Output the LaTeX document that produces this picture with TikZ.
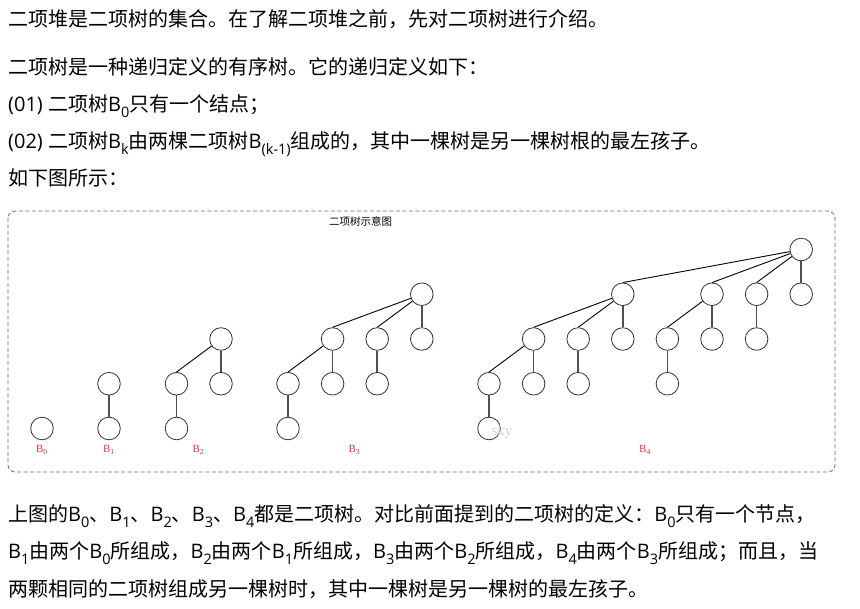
\documentclass[tikz,border=0pt]{standalone}
\usepackage{fontspec}
\setmainfont{Noto Sans CJK SC}
\newfontfamily\latinserif{Liberation Serif}
\newfontfamily\latinsans{Open Sans}
\definecolor{lblred}{RGB}{222,52,62}
\definecolor{edgegray}{RGB}{80,80,80}
\definecolor{boxgray}{RGB}{110,110,110}
\definecolor{wmgray}{RGB}{210,210,210}
% Latin runs inside the Chinese text
\newcommand\lat[1]{{\latinsans #1}}
% lowered, smaller subscript used in the running text
\newcommand\subx[1]{\raisebox{-0.3em}{\latinsans\fontsize{14.5}{15}\selectfont #1}}
\begin{document}
\begin{tikzpicture}[x=1pt,y=-1pt,
  para/.style={anchor=base west,inner sep=0pt,font=\fontsize{20}{24}\selectfont},
  tn/.style={circle,draw=black!80,line width=0.8pt,minimum size=22.6pt,inner sep=0pt},
  diag/.style={draw=black,line width=0.9pt},
  vert/.style={draw=edgegray,line width=1.5pt},
  lbl/.style={text=lblred,inner sep=0pt,font=\latinserif\fontsize{11}{12}\selectfont}]
\useasboundingbox[fill=white] (0,0) rectangle (860,609);

% text above the figure
\node[para] (t1) at (8,27) {二项堆是二项树的集合。在了解二项堆之前，先对二项树进行介绍。};
\node[para] (t2) at (8,74.6) {二项树是一种递归定义的有序树。它的递归定义如下：};
\node[para] (t3) at (8,111.6) {\lat{(01) }二项树\lat{B}\subx{0}只有一个结点；};
\node[para] (t4) at (8,148.6) {\lat{(02) }二项树\lat{B}\subx{k}由两棵二项树\lat{B}\subx{(k-1)}组成的，其中一棵树是另一棵树根的最左孩子。};
\node[para] (t5) at (8,185.6) {如下图所示：};

% figure frame and caption
\draw[boxgray,line width=0.8pt,dash pattern=on 4pt off 2.5pt,rounded corners=7pt] (8,211) rectangle (835,472);
\node[inner sep=0pt,font=\fontsize{10.5}{12}\selectfont] (cap) at (360.5,221) {二项树示意图};

% B0
\node[tn] (n00) at (42,428.5) {};
% B1
\node[tn] (n10) at (109,383.75) {};
\node[tn] (n11) at (109,428.5) {};
\draw[vert] (n10.south) -- (n11.north);
% B2
\node[tn] (n20) at (221,339) {};
\node[tn] (n21) at (176.5,383.75) {};
\node[tn] (n22) at (176.5,428.5) {};
\node[tn] (n23) at (221,383.75) {};
\draw[diag] (n20) -- (n21.north);
\draw[vert] (n21.south) -- (n22.north);
\draw[vert] (n20.south) -- (n23.north);
% B3
\node[tn] (n30) at (421.8,294.25) {};
\node[tn] (n31) at (332.6,339) {};
\node[tn] (n32) at (288,383.75) {};
\node[tn] (n33) at (288,428.5) {};
\node[tn] (n34) at (332.6,383.75) {};
\node[tn] (n35) at (377.2,339) {};
\node[tn] (n36) at (377.2,383.75) {};
\node[tn] (n37) at (421.8,339) {};
\draw[diag] (n30) -- (n31.north);
\draw[diag] (n30) -- (n35.north);
\draw[vert] (n30.south) -- (n37.north);
\draw[diag] (n31) -- (n32.north);
\draw[vert] (n32.south) -- (n33.north);
\draw[vert] (n31.south) -- (n34.north);
\draw[vert] (n35.south) -- (n36.north);
% B4
\node[tn] (m0) at (801.2,249.5) {};
\node[tn] (m1) at (622.8,294.25) {};
\node[tn] (m2) at (712,294.25) {};
\node[tn] (m3) at (756.6,294.25) {};
\node[tn] (m4) at (801.2,294.25) {};
\node[tn] (m5) at (533.6,339) {};
\node[tn] (m6) at (578.2,339) {};
\node[tn] (m7) at (622.8,339) {};
\node[tn] (m8) at (489,383.75) {};
\node[tn] (m9) at (533.6,383.75) {};
\node[tn] (m10) at (489,428.5) {};
\node[tn] (m11) at (578.2,383.75) {};
\node[tn] (m12) at (667.4,339) {};
\node[tn] (m13) at (712,339) {};
\node[tn] (m14) at (667.4,383.75) {};
\node[tn] (m15) at (756.6,339) {};
\draw[diag] (m0) -- (m1.north);
\draw[diag] (m0) -- (m2.north);
\draw[diag] (m0) -- (m3.north);
\draw[vert] (m0.south) -- (m4.north);
\draw[diag] (m1) -- (m5.north);
\draw[diag] (m1) -- (m6.north);
\draw[vert] (m1.south) -- (m7.north);
\draw[diag] (m5) -- (m8.north);
\draw[vert] (m5.south) -- (m9.north);
\draw[vert] (m8.south) -- (m10.north);
\draw[vert] (m6.south) -- (m11.north);
\draw[diag] (m2) -- (m12.north);
\draw[vert] (m2.south) -- (m13.north);
\draw[vert] (m12.south) -- (m14.north);
\draw[vert] (m3.south) -- (m15.north);

% tree labels
\node[lbl] (l0) at (42,450) {B\textsubscript{0}};
\node[lbl] (l1) at (109,450) {B\textsubscript{1}};
\node[lbl] (l2) at (198.5,450) {B\textsubscript{2}};
\node[lbl] (l3) at (354.5,450) {B\textsubscript{3}};
\node[lbl] (l4) at (645,450) {B\textsubscript{4}};
\node[text=wmgray,inner sep=0pt,font=\latinserif\fontsize{15}{16}\selectfont] (wm) at (502,432) {sky};

% text below the figure
\node[para] (u1) at (8,521.6) {上图的\lat{B}\subx{0}、\lat{B}\subx{1}、\lat{B}\subx{2}、\lat{B}\subx{3}、\lat{B}\subx{4}都是二项树。对比前面提到的二项树的定义：\lat{B}\subx{0}只有一个节点，};
\node[para] (u2) at (8,558.6) {\lat{B}\subx{1}由两个\lat{B}\subx{0}所组成，\lat{B}\subx{2}由两个\lat{B}\subx{1}所组成，\lat{B}\subx{3}由两个\lat{B}\subx{2}所组成，\lat{B}\subx{4}由两个\lat{B}\subx{3}所组成；而且，当};
\node[para] (u3) at (8,596.6) {两颗相同的二项树组成另一棵树时，其中一棵树是另一棵树的最左孩子。};
\end{tikzpicture}
\end{document}
